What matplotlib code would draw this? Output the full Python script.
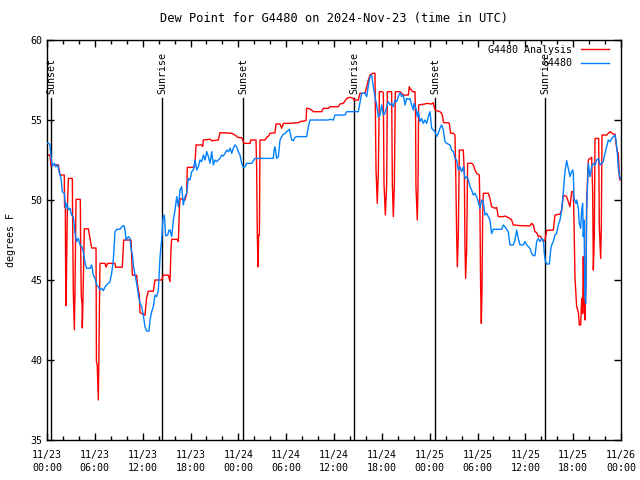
import numpy as np
import pandas as pd
import matplotlib
matplotlib.use('Agg')
import matplotlib.pyplot as plt
import matplotlib.dates as mdates
from matplotlib.ticker import MultipleLocator

plt.rcParams['font.family'] = 'DejaVu Sans Mono'
plt.rcParams['font.size'] = 7.2

start = pd.Timestamp('2024-11-23 00:00')
end = pd.Timestamp('2024-11-26 00:00')

# hours after 11/23 00:00 UTC, dew point in F
ana_hours = [0.0, 0.38, 0.50, 0.9, 1.42, 1.63, 2.17, 2.20, 2.30, 2.34, 2.38, 2.45, 2.55, 2.68, 3.18,
             3.22, 3.30, 3.43, 3.50, 3.60, 3.64, 4.18, 4.22, 4.30, 4.40, 4.43, 4.50, 4.68, 5.19, 5.40,
             5.60, 6.15, 6.20, 6.30, 6.44, 6.50, 6.60, 6.65, 7.28, 7.40, 7.61, 8.53, 8.61, 9.45, 9.62,
             10.54, 10.71, 11.25, 11.35, 11.58, 11.67, 12.29, 12.50, 12.71, 13.34, 13.55, 14.38, 14.59,
             15.22, 15.43, 15.55, 15.64, 16.35, 16.48, 16.60, 16.68, 17.31, 17.52, 17.60, 18.44, 18.57,
             18.69, 19.40, 19.53, 19.61, 20.45, 20.66, 21.49, 21.70, 23.17, 23.58, 24.00, 24.42, 24.71,
             25.46, 25.55, 26.22, 26.30, 26.38, 26.47, 26.55, 26.64, 26.72, 27.35, 27.56, 27.80, 27.97,
             28.60, 28.73, 29.23, 29.44, 29.65, 30.48, 31.53, 31.73, 32.49, 32.57, 32.78, 33.20, 33.41,
             34.45, 34.66, 35.29, 35.50, 36.54, 36.75, 37.17, 37.59, 38.01, 38.42, 38.51, 39.05, 39.26,
             39.89, 40.31, 40.52, 40.85, 41.14, 41.27, 41.43, 41.56, 41.69, 42.10, 42.19, 42.27, 42.44,
             42.61, 42.69, 43.23, 43.32, 43.44, 43.57, 43.69, 44.28, 44.49, 44.70, 45.32, 45.45, 45.53,
             45.86, 46.16, 46.24, 46.28, 46.45, 46.53, 46.62, 47.41, 47.62, 48.25, 48.46, 48.67, 49.29,
             49.50, 49.63, 49.71, 49.80, 50.34, 50.46, 50.63, 50.97, 51.17, 51.26, 51.38, 51.47, 51.59,
             51.72, 52.22, 52.35, 52.43, 52.51, 52.64, 52.76, 53.27, 53.47, 53.68, 53.89, 54.23, 54.31,
             54.39, 54.48, 54.56, 54.65, 54.73, 55.36, 55.56, 55.77, 56.19, 56.40, 56.61, 57.24, 57.45,
             58.07, 58.28, 58.49, 59.33, 60.58, 60.79, 61.00, 61.21, 61.42, 61.63, 61.84, 62.05, 62.26,
             62.47, 62.68, 63.51, 63.72, 64.35, 64.56, 64.77, 65.18, 65.39, 65.60, 65.81, 66.02, 66.10,
             66.23, 66.44, 66.65, 66.77, 66.94, 67.07, 67.19, 67.27, 67.36, 67.48, 67.61, 67.69, 67.90,
             68.32, 68.45, 68.53, 68.65, 68.74, 69.20, 69.28, 69.45, 69.53, 69.62, 70.20, 70.62, 71.04,
             71.25, 71.37, 71.54, 71.66, 71.79, 71.87, 72.0]
ana_dewpt = [52.81, 52.81, 52.13, 52.2, 52.2, 51.56, 51.56, 49.58, 49.5, 45.5, 43.4, 45.5, 49.4, 51.35, 51.35,
             48.3, 44.3, 41.9, 44.0, 48.3, 50.04, 50.04, 47.1, 44.0, 43.5, 42.0, 43.5, 48.2, 48.2, 47.6,
             47.0, 47.0, 39.9, 39.7, 37.5, 39.9, 44.5, 46.04, 46.04, 45.8, 46.04, 46.04, 45.8, 45.8, 47.5,
             47.5, 45.3, 45.3, 44.7, 44.06, 42.96, 42.8, 43.9, 44.3, 44.3, 45.0, 45.0, 45.3,
             45.3, 44.9, 46.9, 47.54, 47.54, 47.4, 49.4, 50.1, 50.0, 50.4, 52.04, 52.04, 52.3,
             53.44, 53.44, 53.35, 53.75, 53.8, 53.7, 53.75, 54.21, 54.17, 54.06, 53.9, 53.9, 53.54,
             53.54, 53.75, 53.75, 51.9, 47.8, 45.83, 47.8, 47.8, 53.75, 53.75, 53.92, 54.0, 54.17,
             54.2, 54.75, 54.75, 54.48, 54.79, 54.79, 54.83, 54.9, 54.96, 55.73, 55.73, 55.62, 55.52,
             55.52, 55.73, 55.73, 55.83, 55.83, 56.0, 56.04, 56.35, 56.42, 56.35, 56.25, 56.25, 56.67,
             56.67, 57.5, 57.81, 57.92, 57.92, 51.88, 49.79, 51.67, 56.77, 56.77, 56.67, 51.04, 49.06,
             51.04, 56.77, 56.77, 50.94, 48.96, 50.94, 56.77, 56.77, 56.67, 56.56, 56.56, 57.08, 56.98,
             56.77, 56.77, 54.8, 50.83, 48.75, 50.6, 55.94, 56.0, 56.04, 56.0, 56.08, 55.62, 55.52,
             55.42, 55.2, 54.9, 54.83, 54.83, 54.79, 54.17, 54.17, 54.06, 52.08, 47.9, 45.83, 47.7,
             53.12, 53.12, 51.67, 47.08, 45.1, 46.9, 52.29, 52.29, 52.2, 51.88, 51.67, 51.56, 49.17,
             44.58, 42.29, 44.38, 49.17, 50.42, 50.42, 50.1, 49.58, 49.48, 49.54, 48.96, 48.96, 49.0,
             48.85, 48.75, 48.44, 48.4, 48.38, 48.54, 48.44, 48.02, 47.96, 47.71, 47.75, 47.6, 47.4,
             47.5, 48.1, 48.12, 49.06, 49.12, 49.38, 50.31, 50.21, 49.9, 49.58, 50.52, 50.52, 48.75,
             45.1, 43.33, 43.0, 42.19, 42.19, 43.85, 42.9, 46.46, 43.44, 42.5, 45.2, 49.79, 52.5,
             52.67, 50.42, 45.62, 47.7, 53.85, 53.85, 48.33, 46.35, 48.33, 54.06, 54.06, 54.27, 54.12,
             54.12, 53.54, 53.02, 52.92, 51.46, 51.25, 51.25]

obs_hours = [0.0, 0.25, 0.38, 0.50, 0.67, 0.92, 1.09, 1.34, 1.51, 1.76, 1.92, 2.17, 2.34, 2.51, 2.68,
             2.89, 3.09, 3.30, 3.51, 3.72, 3.93, 4.14, 4.35, 4.56, 4.77, 4.98, 5.39, 5.60, 5.81, 6.02,
             6.23, 6.44, 6.65, 6.86, 7.07, 7.28, 7.69, 7.90, 8.11, 8.32, 8.53, 8.74, 9.16, 9.37, 9.66,
             9.79, 9.91, 10.20, 10.41, 10.54, 10.71, 10.83, 11.04, 11.25, 11.46, 11.67, 11.88, 12.08,
             12.29, 12.50, 12.80, 12.92, 13.13, 13.34, 13.55, 13.76, 13.97, 14.18, 14.38, 14.55, 14.72,
             14.88, 15.14, 15.30, 15.43, 15.64, 15.85, 16.06, 16.27, 16.48, 16.68, 16.89, 17.10, 17.31,
             17.52, 17.73, 17.94, 18.15, 18.36, 18.57, 18.78, 18.98, 19.19, 19.40, 19.61, 19.82, 20.03,
             20.24, 20.45, 20.66, 20.87, 21.07, 21.28, 21.49, 21.70, 21.91, 22.12, 22.33, 22.54, 22.75,
             22.96, 23.17, 23.37, 23.58, 23.79, 24.00, 24.21, 24.42, 24.63, 24.84, 25.05, 25.67, 26.09,
             28.39, 28.48, 28.60, 28.81, 29.02, 29.23, 29.56, 29.86, 30.40, 30.69, 30.90, 31.11, 31.32,
             32.57, 32.78, 32.99, 35.29, 35.50, 35.92, 36.12, 37.38, 37.59, 39.05, 39.26, 39.47, 39.89,
             40.10, 40.31, 40.52, 40.72, 40.93, 41.14, 41.35, 41.56, 41.77, 41.98, 42.19, 42.40, 42.61,
             42.81, 43.02, 43.23, 43.44, 43.65, 43.86, 44.07, 44.28, 44.49, 44.70, 44.91, 45.11, 45.32,
             45.53, 45.74, 45.95, 46.03, 46.28, 46.45, 46.58, 46.78, 46.99, 47.20, 47.41, 47.62, 47.83,
             48.04, 48.25, 48.46, 48.67, 48.88, 49.08, 49.29, 49.50, 49.71, 49.92, 50.13, 50.55, 50.76,
             50.97, 51.17, 51.38, 51.59, 51.80, 52.01, 52.22, 52.43, 52.64, 52.85, 53.06, 53.27, 53.47,
             53.68, 53.89, 54.10, 54.31, 54.52, 54.73, 54.94, 55.15, 55.36, 55.56, 55.77, 55.98, 57.03,
             57.24, 57.45, 57.86, 58.07, 58.49, 58.70, 58.91, 59.12, 59.33, 59.75, 59.96, 60.17, 60.58,
             60.79, 61.00, 61.21, 61.42, 61.63, 61.84, 62.05, 62.26, 62.38, 62.51, 62.68, 63.01, 63.18,
             63.30, 63.51, 63.72, 63.93, 64.14, 64.35, 64.56, 64.77, 64.97, 65.18, 65.39, 65.60, 65.81,
             65.94, 66.02, 66.10, 66.35, 66.44, 66.65, 66.77, 66.94, 67.07, 67.19, 67.27, 67.36, 67.48,
             67.57, 67.61, 67.69, 67.82, 67.90, 68.11, 68.32, 68.53, 68.74, 68.95, 69.16, 69.37, 69.57,
             69.78, 69.99, 70.20, 70.41, 70.62, 70.83, 71.04, 71.25, 71.37, 71.54, 71.66, 71.79, 71.96]
obs_dewpt = [53.54, 53.54, 53.44, 52.71, 52.12, 52.29, 52.08, 52.19, 51.77, 51.35, 50.52, 50.42, 49.48, 49.79, 49.38,
             49.48, 49.06, 48.96, 47.92, 47.4, 47.6, 47.19, 47.08, 46.77, 46.04, 45.73, 45.73, 45.94, 45.31, 45.1,
             44.69, 44.58, 44.38, 44.48, 44.33, 44.58, 44.79, 44.9, 45.42, 46.25, 48.02, 48.17, 48.17, 48.33, 48.4,
             48.12, 47.5, 47.71, 47.6, 46.98, 46.56, 45.94, 45.31, 44.79, 44.06, 43.54, 43.33, 42.81,
             42.08, 41.81, 41.81, 42.5, 43.02, 43.33, 44.06, 43.96, 44.38, 46.46, 47.5, 48.85, 49.06,
             47.75, 47.81, 48.12, 48.12, 47.71, 48.75, 49.38, 50.21, 49.58, 50.62, 50.83, 49.69, 50.21,
             50.42, 51.35, 51.25, 51.77, 51.88, 52.5, 51.88, 52.08, 52.5, 52.4, 52.81, 52.5, 53.02,
             52.71, 52.29, 53.02, 52.19, 52.5, 52.4, 52.5, 52.6, 52.81, 52.75, 52.92, 53.12, 53.02,
             53.23, 52.92, 53.23, 53.44, 53.33, 53.02, 52.81, 52.29, 52.04, 52.08, 52.29, 52.29, 52.6,
             52.6, 53.12, 53.33, 52.6, 52.71, 53.75, 54.06, 54.17, 54.42, 53.75, 53.71, 53.92, 53.96,
             53.96, 54.58, 55.0, 55.0, 55.04, 55.0, 55.31, 55.31, 55.52, 55.52, 56.08, 56.67, 56.67,
             56.46, 57.19, 57.71, 57.81, 57.08, 56.46, 55.94, 55.2, 55.31, 55.94, 55.31, 55.42, 55.83,
             56.15, 55.94, 56.04, 55.83, 56.25, 56.15, 56.46, 56.71, 56.46, 56.56, 55.94, 56.35, 56.29,
             56.35, 55.94, 55.62, 56.04, 55.73, 55.2, 55.52, 54.9, 55.1, 54.79, 55.0, 54.79, 55.2,
             55.52, 54.48, 54.38, 54.27, 53.96, 54.17, 54.48, 54.69, 54.38, 53.65, 53.54, 53.44, 53.12,
             53.02, 52.6, 52.5, 51.88, 52.08, 51.77, 52.08, 51.35, 51.46, 51.25, 50.83, 50.62, 50.31,
             50.42, 50.21, 49.9, 49.48, 50.0, 49.9, 49.06, 49.17, 48.96, 48.75, 47.9, 48.17, 48.17,
             48.44, 48.33, 48.02, 47.19, 47.19, 47.5, 48.12, 47.6, 47.19, 47.19, 47.4, 47.19, 46.98,
             46.67, 46.52, 46.52, 47.4, 47.6, 47.4, 47.6, 47.5, 46.67, 46.2, 46.0, 46.0, 46.88,
             47.19, 47.4, 47.81, 47.92, 48.44, 48.75, 49.38, 50.52, 51.77, 52.46, 51.98, 51.46, 51.77,
             51.88, 51.67, 50.1, 49.79, 50.0, 49.48, 48.54, 48.23, 49.38, 49.79, 47.71, 48.75, 43.96,
             43.54, 44.58, 49.38, 51.25, 52.29, 51.46, 52.08, 52.29, 52.19, 52.5, 52.6, 52.19, 52.29,
             52.4, 52.92, 53.33, 53.75, 53.65, 53.85, 53.96, 54.06, 53.75, 52.92, 51.98, 51.56, 51.3]

sun_labels = ['Sunset', 'Sunrise', 'Sunset', 'Sunrise', 'Sunset', 'Sunrise']
sun_times = ['2024-11-23 00:30', '2024-11-23 14:26', '2024-11-24 00:35',
             '2024-11-24 14:30', '2024-11-25 00:40', '2024-11-25 14:28']

ana_time = start + pd.to_timedelta(ana_hours, unit='h')
obs_time = start + pd.to_timedelta(obs_hours, unit='h')

fig = plt.figure(figsize=(6.4, 4.8), dpi=100)
ax = fig.add_axes([47/640, 40/480, 574/640, 400/480])

for lab, t in zip(sun_labels, sun_times):
    t = pd.Timestamp(t)
    ax.plot([t, t], [35, 56.4], color='black', lw=1.0, zorder=1)
    ax.text(t, 56.65, lab, rotation=90, ha='center', va='bottom')

ax.plot(ana_time, ana_dewpt, color='#ff0000', lw=1.0, label='G4480 Analysis', zorder=2)
ax.plot(obs_time, obs_dewpt, color='#0080ff', lw=1.0, label='G4480', zorder=3)

ax.set_xlim(start, end)
ax.set_ylim(35, 60)
ax.yaxis.set_major_locator(MultipleLocator(5))
ax.xaxis.set_major_locator(mdates.HourLocator(byhour=[0, 6, 12, 18]))
ax.xaxis.set_minor_locator(mdates.HourLocator(interval=2))
ax.xaxis.set_major_formatter(mdates.DateFormatter('%m/%d\n%H:%M'))
ax.tick_params(which='both', direction='in', top=True, right=True, width=1)
ax.tick_params(which='major', length=5)
ax.tick_params(which='minor', length=3)
ax.tick_params(axis='x', which='major', pad=7)
for s in ax.spines.values():
    s.set_linewidth(1)

ax.set_title('Dew Point for G4480 on 2024-Nov-23 (time in UTC)', pad=13)
fig.text(11/640, 0.5, 'degrees F', rotation=90, ha='center', va='center')

ax.legend(loc='upper right', bbox_to_anchor=(0.99, 1.003), frameon=False, markerfirst=False,
          handlelength=2.8, borderaxespad=0.2, labelspacing=0.35, handletextpad=0.9)

fig.canvas.draw()
for lbl in ax.get_xticklabels():
    lbl.set_linespacing(1.35)

fig.savefig('out.png', dpi=100)
